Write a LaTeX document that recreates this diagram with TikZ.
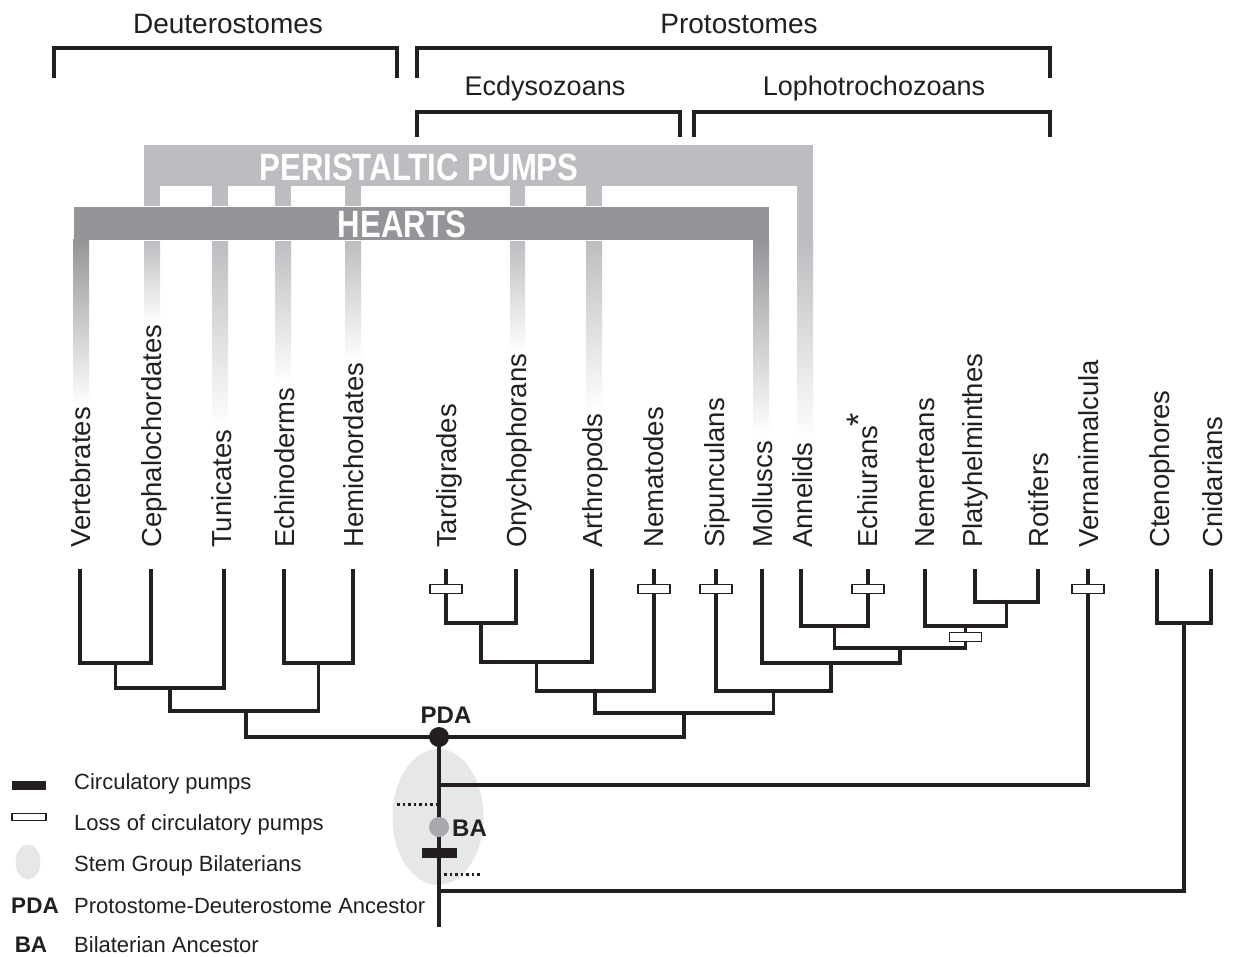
\documentclass[tikz,border=0pt]{standalone}
\usepackage{fontspec}
\setmainfont{Liberation Sans}
\newfontfamily\barfont[FakeStretch=0.82]{Liberation Sans}
\usetikzlibrary{shapes.geometric}
\definecolor{pgray}{HTML}{BCBDC0}
\definecolor{hgray}{HTML}{939598}
\definecolor{stemgray}{HTML}{E6E7E8}
\definecolor{badot}{HTML}{A7A9AC}
\definecolor{ink}{HTML}{231F20}
\tikzset{
  tree/.style={draw=ink, line width=3.4pt, line cap=rect},
  bracket/.style={draw=ink, line width=3.2pt},
  header/.style={anchor=base, inner sep=0pt, text=ink, font=\fontsize{28}{30}\selectfont},
  subheader/.style={anchor=base, inner sep=0pt, text=ink, font=\fontsize{27}{30}\selectfont},
  taxon/.style={rotate=90, anchor=base west, inner sep=0pt, text=ink, font=\fontsize{27.5}{30}\selectfont},
  lossbox/.style={draw=ink, fill=white, line width=1.7pt, minimum width=32pt, minimum height=9pt, inner sep=0pt},
  pumpbar/.style={fill=ink, minimum width=35pt, minimum height=10pt, inner sep=0pt},
  legtext/.style={anchor=base west, inner sep=0pt, text=ink, font=\fontsize{22}{24}\selectfont},
  legbold/.style={anchor=base, inner sep=0pt, text=ink, font=\fontsize{22.5}{24}\selectfont\bfseries},
  bartext/.style={anchor=base, inner sep=0pt, text=white, font=\fontsize{38}{40}\selectfont\barfont\bfseries},
  dotline/.style={draw=ink, line width=3pt, dash pattern=on 2.5pt off 3pt},
}
\begin{document}
\begin{tikzpicture}[x=1pt,y=-1pt]
\useasboundingbox (0,0) rectangle (1234,956);
\fill[white] (0,0) rectangle (1234,956);

% ---------- top brackets ----------
\node[header] (deut) at (228,33) {Deuterostomes};
\node[header] (prot) at (739,33) {Protostomes};
\node[subheader] (ecdy) at (545,95) {Ecdysozoans};
\node[subheader] (loph) at (874,95) {Lophotrochozoans};
\coordinate (bd1) at (54,78); \coordinate (bd2) at (397,78);
\coordinate (bp1) at (417,78); \coordinate (bp2) at (1050,78);
\coordinate (be1) at (417,137); \coordinate (be2) at (680,137);
\coordinate (bl1) at (694,137); \coordinate (bl2) at (1050,137);
\draw[bracket] (bd1) -- ++(0,-30) -| (bd2);
\draw[bracket] (bp1) -- ++(0,-30) -| (bp2);
\draw[bracket] (be1) -- ++(0,-25) -| (be2);
\draw[bracket] (bl1) -- ++(0,-25) -| (bl2);

% ---------- peristaltic pumps ----------
\fill[pgray] (144,145) rectangle (813,186);
\foreach \a/\b/\e in {144/160/322, 212/228/428, 275/291/384, 345/361/362, 510/525/352, 586/602/412, 797/813/440}{
  \fill[pgray] (\a,185) rectangle (\b,241);
  \shade[top color=pgray, bottom color=white] (\a,240) rectangle (\b,\e);
}
\node[bartext] (peri) at (419,180) {PERISTALTIC PUMPS};

% ---------- hearts ----------
\fill[hgray, draw=white, line width=0.8pt] (73,206) rectangle (769,240);
\foreach \a/\b/\e in {73/89/406, 753/769/434}{
  \shade[top color=hgray, bottom color=white] (\a,239.6) rectangle (\b,\e);
}
\node[bartext] (hearts) at (402,237) {HEARTS};

% ---------- taxon labels ----------
\foreach \n/\x/\t in {lVert/80/Vertebrates, lCeph/151/Cephalochordates, lTun/221/Tunicates,
  lEch/284/Echinoderms, lHem/353/Hemichordates, lTard/446/Tardigrades, lOnych/516/Onychophorans,
  lArth/592/Arthropods, lNema/653/Nematodes, lSip/714/Sipunculans, lMoll/762/Molluscs,
  lAnn/802/Annelids, lNemer/924/Nemerteans, lPlaty/972/Platyhelminthes, lRot/1038/Rotifers,
  lVern/1088/Vernanimalcula, lCteno/1159/Ctenophores, lCnid/1212/Cnidarians}{
  \node[taxon] (\n) at (\x+10,548) {\t};
}
\node[taxon] (lEchi) at (877,548) {Echiurans\kern-1pt\raisebox{0.22em}{\fontsize{34}{34}\selectfont *}};

% ---------- stem group ellipse ----------
\node[ellipse, fill=stemgray, minimum width=91pt, minimum height=136pt, inner sep=0pt] (stem) at (438,817) {};

% ---------- tree tips ----------
\foreach \n/\x in {tVert/80, tCeph/151, tTun/224, tEch/284, tHem/353, tTard/446, tOnych/516,
  tArth/592, tNema/654, tSip/716, tMoll/762, tAnn/801, tEchi/868, tNemer/925, tPlaty/975,
  tRot/1038, tVern/1088, tCteno/1157, tCnid/1211}{
  \coordinate (\n) at (\x,571);
}

% deuterostomes
\coordinate (n1) at (115.5,663);
\coordinate (n2) at (170,688);
\coordinate (n3) at (318.5,663);
\coordinate (n4) at (246,711);
\draw[tree] (tVert) |- (n1) -| (tCeph);
\draw[tree] (n1) |- (n2) -| (tTun);
\draw[tree] (tEch) |- (n3) -| (tHem);
\draw[tree] (n2) |- (n4) -| (n3);

% ecdysozoans
\coordinate (e1) at (481,623);
\coordinate (e2) at (536.5,662);
\coordinate (e3) at (595,691);
\draw[tree] (tTard) |- (e1) -| (tOnych);
\draw[tree] (e1) |- (e2) -| (tArth);
\draw[tree] (e2) |- (e3) -| (tNema);

% lophotrochozoans
\coordinate (l1) at (834.5,626);
\coordinate (l2) at (1006.5,602);
\coordinate (l3) at (965.5,626);
\coordinate (l4) at (900,648);
\coordinate (l5) at (831,663);
\coordinate (l6) at (773.5,691);
\draw[tree] (tAnn) |- (l1) -| (tEchi);
\draw[tree] (tPlaty) |- (l2) -| (tRot);
\draw[tree] (tNemer) |- (l3) -| (l2);
\draw[tree] (l1) |- (l4) -| (l3);
\draw[tree] (tMoll) |- (l5) -| (l4);
\draw[tree] (tSip) |- (l6) -| (l5);

% protostomes and PDA
\coordinate (p) at (684,713);
\coordinate (pda) at (439,737);
\draw[tree] (e3) |- (p) -| (l6);
\draw[tree] (n4) |- (pda) -| (p);

% outgroups
\coordinate (c1) at (1184,623);
\coordinate (vj) at (439,785);
\coordinate (cj) at (439,891);
\coordinate (root) at (439,927);
\draw[tree] (tCteno) |- (c1) -| (tCnid);
\draw[tree] (tVern) |- (vj);
\draw[tree] (c1) |- (cj);
\draw[tree, line cap=butt] (pda) -- (root);

% dotted stem lines
\coordinate (d1a) at (397,804); \coordinate (d1b) at (436,804);
\coordinate (d2a) at (444,874); \coordinate (d2b) at (482,874);
\draw[dotline] (d1a) -- (d1b);
\draw[dotline] (d2a) -- (d2b);

% loss boxes
\node[lossbox] (xTard) at (446,589) {};
\node[lossbox] (xNema) at (654,589) {};
\node[lossbox] (xSip) at (716,589) {};
\node[lossbox] (xEchi) at (868,589) {};
\node[lossbox] (xPlat) at (965.5,637) {};
\node[lossbox] (xVern) at (1088,589) {};

% ancestors
\node[circle, fill=ink, minimum size=20pt, inner sep=0pt] (pdadot) at (pda) {};
\node[anchor=base, inner sep=0pt, text=ink, font=\fontsize{24}{26}\selectfont\bfseries] (pdalab) at (446,723) {PDA};
\node[circle, fill=badot, minimum size=20pt, inner sep=0pt] (badot) at (439,827) {};
\node[anchor=base west, inner sep=0pt, text=ink, font=\fontsize{24}{26}\selectfont\bfseries] (balab) at (452,836) {BA};
\node[pumpbar] (pump) at (439,853) {};

% ---------- legend ----------
\node[pumpbar, minimum width=34pt, minimum height=9pt] (k1) at (29,785) {};
\node[legtext] (k1t) at (74,789) {Circulatory pumps};
\node[lossbox, minimum width=34pt, minimum height=7pt] (k2) at (29,817) {};
\node[legtext] (k2t) at (74,830) {Loss of circulatory pumps};
\node[ellipse, fill=stemgray, minimum width=25pt, minimum height=35pt, inner sep=0pt] (k3) at (28,862) {};
\node[legtext] (k3t) at (74,871) {Stem Group Bilaterians};
\node[legbold] (k4) at (35,913) {PDA};
\node[legtext] (k4t) at (74,913) {Protostome-Deuterostome Ancestor};
\node[legbold] (k5) at (31,952) {BA};
\node[legtext] (k5t) at (74,952) {Bilaterian Ancestor};
\end{tikzpicture}
\end{document}
